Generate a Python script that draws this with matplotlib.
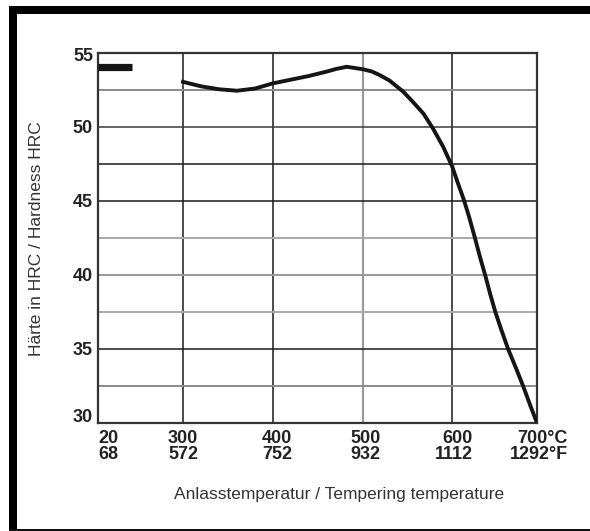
import numpy as np
import matplotlib
matplotlib.use("Agg")
import matplotlib.pyplot as plt
from matplotlib.lines import Line2D

plt.rcParams['font.family'] = ['Liberation Sans', 'DejaVu Sans']

# ---- data ----
temp_c = [300, 320, 340, 360, 380, 400, 420, 440, 460, 470, 482, 500, 510, 519, 530,
          545, 556, 568, 579, 590, 600, 607, 614, 620, 627, 633, 639, 645, 651,
          658, 666, 675, 684, 692, 700]
hrc = [53.05, 52.75, 52.55, 52.45, 52.6, 52.95, 53.2, 53.45, 53.75, 53.92, 54.07, 53.9,
       53.75, 53.5, 53.13, 52.4, 51.7, 50.9, 49.86, 48.67, 47.36, 46.2, 45.07, 43.95,
       42.5, 41.2, 40.0, 38.7, 37.5, 36.3, 35.0, 33.75, 32.45, 31.2, 30.0]
hardened_temp = [20, 132]
hardened_hrc = [54.05, 54.05]

x_ticks_c = [20, 300, 400, 500, 600, 700]
x_ticks_f = ['68', '572', '752', '932', '1112', '1292°F']
x_ticks_c_lbl = ['20', '300', '400', '500', '600', '700°C']
y_ticks = [30, 35, 40, 45, 50, 55]

# ---- non-uniform x-axis (tick positions equally spaced, 20 compressed) ----
XT = [-1000, 20, 300, 400, 500, 600, 700, 2000]
XP = [-85 * 1020 / 280, 0, 85, 175, 265, 354, 439, 439 + 1300 * 0.85]

def fwd(x):
    return np.interp(x, XT, XP)

def inv(p):
    return np.interp(p, XP, XT)

W, H = 590, 531
fig = plt.figure(figsize=(W / 100, H / 100), dpi=100)
ax = fig.add_axes([98 / W, 1 - 423 / H, (537 - 98) / W, (423 - 53) / H])
ax.set_xscale('function', functions=(fwd, inv))
ax.set_xlim(20, 700)
ax.set_ylim(30, 55)

# grid lines
vgrid = {300: '#1a1a1a', 400: '#1a1a1a', 500: '#9a9a9a', 600: '#1a1a1a'}
for xv, c in vgrid.items():
    ax.axvline(xv, color=c, lw=1.1 if c != '#9a9a9a' else 1.6, zorder=1)
hgrid = {52.5: '#8a8a8a', 50: '#3a3a3a', 47.5: '#1a1a1a', 45: '#1a1a1a',
         42.5: '#a8a8a8', 40: '#999999', 37.5: '#a8a8a8', 35: '#1a1a1a', 32.5: '#8a8a8a'}
for yv, c in hgrid.items():
    light = c[1] in '89a'
    ax.axhline(yv, color=c, lw=1.4 if light else 1.1, zorder=1)

ax.plot(temp_c, hrc, color='#151515', lw=2.8, solid_joinstyle='round', zorder=3)
ax.plot(hardened_temp, hardened_hrc, color='#151515', lw=5.2, solid_capstyle='butt', zorder=3)

for s in ax.spines.values():
    s.set_color('#333333')
    s.set_linewidth(1.6)
ax.set_xticks([])
ax.set_yticks([])

# y tick labels
y_off = {55: -2.2, 30: 3.6}
for yv in y_ticks:
    ax.annotate(str(yv), xy=(0, yv), xycoords=('axes fraction', 'data'),
                xytext=(-3.6, y_off.get(yv, -0.8)), textcoords='offset points',
                ha='right', va='center', fontsize=13, fontweight='bold', color='#222222')

# x tick labels (two lines: °C / °F)
x_align = ['left', 'center', 'center', 'center', 'right', 'right']
x_shift = [0, 0, 3, 1.5, 15, 22]  # in points
for xv, lc, lf, ha, dx in zip(x_ticks_c, x_ticks_c_lbl, x_ticks_f, x_align, x_shift):
    ax.annotate(lc + '\n' + lf, xy=(xv, 0), xycoords=('data', 'axes fraction'),
                xytext=(dx, -5.0), textcoords='offset points',
                ha=ha, va='top', multialignment=ha,
                fontsize=13, fontweight='bold', color='#222222', linespacing=0.95)

fig.text(339 / W, 1 - 494 / H, 'Anlasstemperatur / Tempering temperature',
         ha='center', va='center', fontsize=12.5, color='#333333')
fig.text(37 / W, 1 - 239 / H, 'Härte in HRC / Hardness HRC', rotation=90,
         ha='center', va='center', fontsize=12.5, color='#333333')

# frame
fig.add_artist(Line2D([13 / W, 13 / W], [0, 1 - 6 / H], color='black', lw=8 * 0.72,
                      solid_capstyle='butt'))
fig.add_artist(Line2D([9 / W, 1], [1 - 10 / H, 1 - 10 / H], color='black', lw=8 * 0.72,
                      solid_capstyle='butt'))
fig.add_artist(Line2D([9 / W, 1], [1.5 / H, 1.5 / H], color='#111111', lw=3 * 0.72,
                      solid_capstyle='butt'))

fig.savefig('out.png', dpi=100, facecolor='white')
